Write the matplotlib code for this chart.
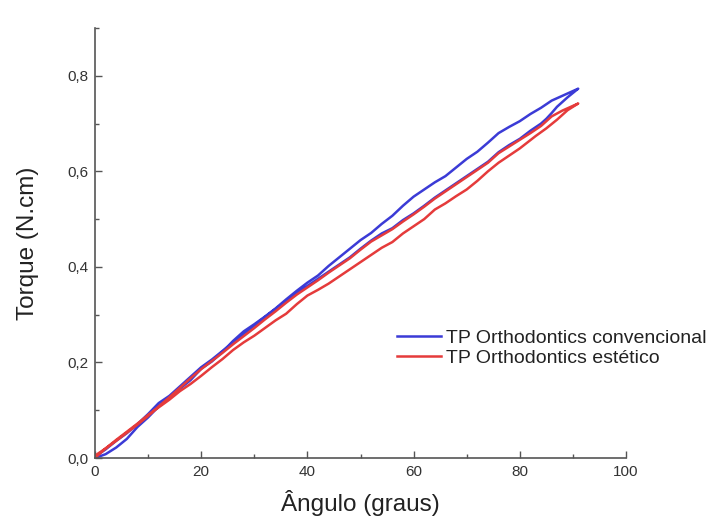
import matplotlib
matplotlib.use("Agg")
import matplotlib.pyplot as plt
from matplotlib.ticker import MultipleLocator, FuncFormatter

# ---- data ----
conv_load_x = [0, 2, 4, 6, 8, 10, 12, 14, 16, 18, 20, 22, 24, 26, 28, 30, 32, 34, 36, 38, 40,
               42, 44, 46, 48, 50, 52, 54, 56, 58, 60, 62, 64, 66, 68, 70, 72, 74, 76, 78, 80,
               82, 84, 86, 88, 90, 91]
conv_load_y = [0.0, 0.008, 0.022, 0.040, 0.065, 0.085, 0.108, 0.125, 0.145, 0.163, 0.187, 0.202,
               0.222, 0.245, 0.265, 0.280, 0.296, 0.313, 0.332, 0.350, 0.367, 0.382, 0.402, 0.420,
               0.438, 0.456, 0.471, 0.490, 0.507, 0.528, 0.547, 0.562, 0.577, 0.590, 0.608, 0.626,
               0.641, 0.660, 0.680, 0.693, 0.705, 0.720, 0.733, 0.748, 0.758, 0.768, 0.773]
conv_unload_x = [91, 89, 87, 86, 85, 84, 82, 80, 78, 76, 74, 72, 70, 68, 66, 64, 62, 60, 58, 56,
                 54, 52, 50, 48, 46, 44, 42, 40, 38, 36, 34, 32, 30, 28, 26, 24, 22, 20, 18, 16,
                 14, 12, 10, 8, 6, 4, 2, 0]
conv_unload_y = [0.773, 0.755, 0.735, 0.722, 0.710, 0.700, 0.685, 0.668, 0.655, 0.640, 0.620,
                 0.605, 0.590, 0.575, 0.560, 0.545, 0.528, 0.512, 0.498, 0.481, 0.470, 0.455,
                 0.438, 0.420, 0.405, 0.390, 0.375, 0.360, 0.345, 0.328, 0.312, 0.295, 0.277,
                 0.260, 0.242, 0.224, 0.206, 0.190, 0.170, 0.150, 0.130, 0.115, 0.092, 0.071,
                 0.052, 0.036, 0.018, 0.003]

est_load_x = [0, 2, 4, 6, 8, 10, 12, 14, 16, 18, 20, 22, 24, 26, 28, 30, 32, 34, 36, 38, 40,
              42, 44, 46, 48, 50, 52, 54, 56, 58, 60, 62, 64, 66, 68, 70, 72, 74, 76, 78, 80,
              82, 84, 85, 86, 88, 90, 91]
est_load_y = [0.0, 0.020, 0.036, 0.053, 0.070, 0.088, 0.108, 0.127, 0.147, 0.167, 0.186, 0.203,
              0.220, 0.238, 0.255, 0.272, 0.290, 0.307, 0.325, 0.342, 0.357, 0.372, 0.388,
              0.403, 0.418, 0.436, 0.453, 0.466, 0.479, 0.495, 0.510, 0.526, 0.543, 0.558,
              0.573, 0.588, 0.603, 0.618, 0.638, 0.652, 0.666, 0.680, 0.695, 0.705, 0.715,
              0.727, 0.737, 0.742]
est_unload_x = [91, 89, 87, 85, 83, 80, 78, 76, 74, 72, 70, 68, 66, 64, 62, 60, 58, 56, 54, 52,
                50, 48, 46, 44, 42, 40, 38, 36, 34, 32, 30, 28, 26, 24, 22, 20, 18, 16, 14, 12,
                10, 8, 6, 4, 2, 0]
est_unload_y = [0.742, 0.728, 0.708, 0.690, 0.674, 0.648, 0.633, 0.618, 0.600, 0.580, 0.562,
                0.548, 0.533, 0.520, 0.500, 0.485, 0.470, 0.452, 0.440, 0.425, 0.410, 0.395,
                0.380, 0.365, 0.352, 0.340, 0.322, 0.302, 0.288, 0.272, 0.256, 0.242, 0.226,
                0.207, 0.190, 0.172, 0.155, 0.140, 0.122, 0.106, 0.090, 0.072, 0.055, 0.038,
                0.020, 0.005]

series_labels = ["TP Orthodontics convencional", "TP Orthodontics estético"]
x_label = "Ângulo (graus)"
y_label = "Torque (N.cm)"

plt.rcParams['font.family'] = ['Liberation Sans', 'DejaVu Sans']

fig = plt.figure(figsize=(7.16, 5.24), dpi=100)
ax = fig.add_axes([95 / 716, 1 - 458 / 524, (626 - 95) / 716, (458 - 28) / 524])

blue = '#3b3bd6'
red = '#e53b3b'
ax.plot(conv_load_x + conv_unload_x, conv_load_y + conv_unload_y, color=blue, lw=1.8,
        label=series_labels[0])
ax.plot(est_load_x + est_unload_x, est_load_y + est_unload_y, color=red, lw=1.8,
        label=series_labels[1])

ax.set_xlim(0, 100)
ax.set_ylim(0, 0.9)
ax.xaxis.set_major_locator(MultipleLocator(20))
ax.xaxis.set_minor_locator(MultipleLocator(10))
ax.yaxis.set_major_locator(MultipleLocator(0.2))
ax.yaxis.set_minor_locator(MultipleLocator(0.1))
ax.yaxis.set_major_formatter(FuncFormatter(lambda v, p: f"{v:.1f}".replace('.', ',')))

for s in ['top', 'right']:
    ax.spines[s].set_visible(False)
for s in ['left', 'bottom']:
    ax.spines[s].set_color('#555555')
    ax.spines[s].set_linewidth(1.2)

ax.tick_params(which='major', direction='in', length=5, width=1, colors='#555555',
               labelsize=11, labelcolor='#333333', pad=5)
ax.tick_params(which='minor', direction='in', length=3, width=1, colors='#555555')

ax.set_xlabel(x_label, fontsize=17.5, color='#222222', labelpad=8)
ax.set_ylabel(y_label, fontsize=17.5, color='#222222', labelpad=20)

leg = ax.legend(loc='center left', bbox_to_anchor=(397 / 716, 1 - 348 / 524),
                bbox_transform=fig.transFigure, frameon=False, fontsize=14,
                borderpad=0, borderaxespad=0, handlelength=2.25, handletextpad=0.25,
                labelspacing=0.15)
for t in leg.get_texts():
    t.set_color('#222222')

fig.savefig('out.png', dpi=100)
